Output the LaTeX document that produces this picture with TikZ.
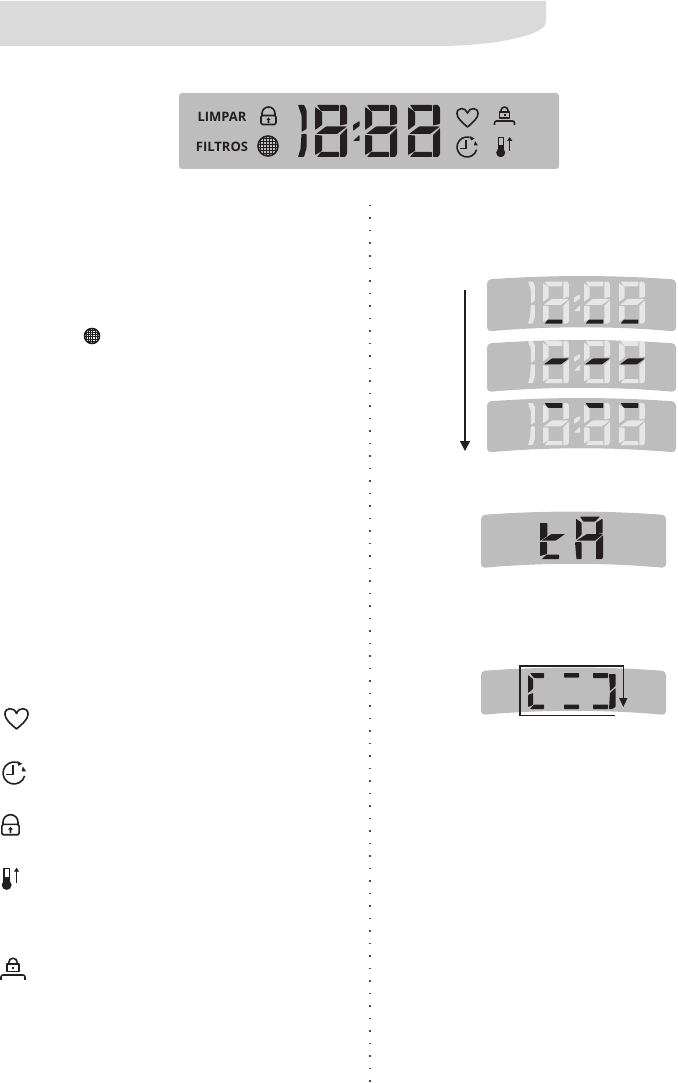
\documentclass[tikz,border=0pt]{standalone}
\usepackage{fontspec}
\setsansfont{Open Sans}
\usepackage{tikz}
\usetikzlibrary{arrows.meta,calc}
\definecolor{lcdgray}{HTML}{BDBDBD}
\definecolor{bannergray}{HTML}{DADADA}
\definecolor{segoff}{HTML}{E6E6E6}
\definecolor{segon}{HTML}{231F20}
\tikzset{
    lcdpanel/.style={fill=lcdgray, draw=none},
    seg/.style={fill=#1, draw=none, rounded corners=0.6pt},
    iconline/.style={draw=segon, line width=1.6pt, fill=none, line join=round},
    iconfill/.style={fill=segon, draw=none},
    panellabel/.style={font=\sffamily\bfseries\fontsize{13}{13}\selectfont, text=segon, inner sep=0pt},
    flowarrow/.style={-{Triangle[length=10pt,width=10pt]}, draw=segon, line width=1.2pt}
}
% curved display: x left, x right, y of top corner, y of bottom corner
\newcommand{\curvedpanel}[4]{
    \fill[lcdpanel, rounded corners=4pt] (#1,#3) .. controls ({#1+(#2-#1)*0.33},{#3-4.5}) and ({#1+(#2-#1)*0.67},{#3-4.5}) .. (#2,#3)
        -- (#2,#4) .. controls ({#1+(#2-#1)*0.67},{#4-5.5}) and ({#1+(#2-#1)*0.33},{#4-5.5}) .. (#1,#4) -- cycle;
}
% one digit: position, scale, then colours top, up-left, up-right, middle, low-left, low-right, bottom
\newcommand{\lcddigit}[9]{
    \begin{scope}[shift={(#1)}, scale=#2]
    \fill[seg=#3] (2,0) -- (24,0) -- (24,6) -- (6,6) -- cycle;
    \fill[seg=#4] (0,2) -- (7,7) -- (7,20) -- (0,25) -- cycle;
    \fill[seg=#5] (25,0) -- (30,0) -- (32,3) -- (32,19) -- (25,20.5) -- cycle;
    \fill[seg=#6] (1,29) -- (11,21.5) -- (32,21.5) -- (22,29) -- cycle;
    \fill[seg=#7] (0,30) -- (7,30.5) -- (7,46) -- (0,50) -- cycle;
    \fill[seg=#8] (32,23) -- (25,30) -- (25,52) -- (30,52) -- (32,49) -- cycle;
    \fill[seg=#9] (2,52) -- (6,47) -- (24,47) -- (24,52) -- cycle;
    \end{scope}
}
\newcommand{\lcdone}[4]{
    \begin{scope}[shift={(#1,#2)}, scale=#3]
    \fill[seg=#4] (0,0) -- (6,0) -- (8.5,5) -- (8.5,24) -- (3.5,27) -- (3.5,10) -- cycle;
    \fill[seg=#4] (3.5,29) -- (8.5,29) -- (8.5,43) -- (6,52) -- (0,52) -- (2.5,44) -- cycle;
    \end{scope}
}
\newcommand{\iconheart}[3]{
    \draw[iconline, shift={(#1,#2)}, scale=#3] (0,9) .. controls (-6,4) and (-10.5,0) .. (-10.5,-4.5) .. controls (-10.5,-11) and (-2,-11) .. (0,-5)
        .. controls (2,-11) and (10.5,-11) .. (10.5,-4.5) .. controls (10.5,0) and (6,4) .. (0,9) -- cycle;
}
\newcommand{\iconclock}[3]{
    \begin{scope}[shift={(#1,#2)}, scale=#3]
    \draw[iconline] (-75:10) arc (-75:-345:10);
    \draw[iconline] (-1,-7) -- (-1,1.5) -- (-7,1.5);
    \fill[iconfill] (2.5,-11) -- (7.5,-8.5) -- (4,-6.5) -- cycle;
    \fill[iconfill] (8,-6) -- (11,-1.5) -- (7,-1.5) -- cycle;
    \end{scope}
}
\newcommand{\iconlock}[3]{
    \begin{scope}[shift={(#1,#2)}, scale=#3]
    \draw[iconline] (-6.5,0) -- (-6.5,-2.5) arc (180:360:6.5) -- (6.5,0);
    \draw[iconline, rounded corners=1.5pt] (-7.5,-0.5) rectangle (7.5,8.5);
    \fill[iconfill] (0,1.5) -- (2.2,4) -- (0.8,4) -- (0.8,7) -- (-0.8,7) -- (-0.8,4) -- (-2.2,4) -- cycle;
    \end{scope}
}
\newcommand{\iconbench}[3]{
    \begin{scope}[shift={(#1,#2)}, scale=#3]
    \draw[iconline] (-3.5,-4) -- (-3.5,-5.5) arc (180:360:3.5) -- (3.5,-4);
    \draw[iconline] (-5,-4) rectangle (5,2);
    \fill[iconfill] (-1,-2) rectangle (1,0);
    \draw[iconline, rounded corners=2pt] (-10,9) -- (-10,5) -- (10,5) -- (10,9);
    \end{scope}
}
\newcommand{\iconthermo}[3]{
    \begin{scope}[shift={(#1,#2)}, scale=#3]
    \draw[iconline, line width=1.1pt] (-6.7,3) -- (-6.7,-9.5) -- (-1.9,-9.5) -- (-1.9,3);
    \fill[iconfill] (-4.3,5.7) circle (4.5);
    \fill[iconfill] (-6.7,-2) rectangle (-1.9,3);
    \draw[-{Triangle[length=4pt,width=5pt]}, draw=segon, line width=1.4pt] (4.7,3.7) -- (4.7,-10);
    \end{scope}
}
\newcommand{\icongrid}[3]{
    \begin{scope}[shift={(#1,#2)}, scale=#3]
    \draw[iconline] (0,0) circle (10);
    \clip (0,0) circle (10);
    \foreach \gridpos in {-8,-5,-2,1,4,7}{
        \draw[draw=segon, line width=0.8pt] (\gridpos,-10) -- (\gridpos,10);
        \draw[draw=segon, line width=0.8pt] (-10,\gridpos) -- (10,\gridpos);
    }
    \end{scope}
}
\begin{document}
\begin{tikzpicture}[x=1pt, y=-1pt]
\useasboundingbox (0,0) rectangle (677,1083);

% Banner
\fill[bannergray] (0,1) -- (546,1) -- (546,22) .. controls (546,36) and (490,46) .. (440,46) -- (0,46) -- cycle;

% Main display
\fill[lcdpanel, rounded corners=3pt] (179,93) rectangle (559,169);
\node[panellabel] (limpar) at (222,116.4) {LIMPAR};
\node[panellabel] (filtros) at (222,146.7) {FILTROS};
\iconlock{268.5}{116}{1}
\icongrid{268}{146}{1}
\lcdone{298}{105}{1}{segon}
\foreach \digitx in {315,365,408}{
    \lcddigit{\digitx,105}{1}{segon}{segon}{segon}{segon}{segon}{segon}{segon}
}
\begin{scope}[shift={(353,105)}]
    \fill[seg=segon] (0,20) -- (6.5,16) -- (6.5,21) -- (0,26) -- cycle;
    \fill[seg=segon] (0,36) -- (6.5,30) -- (6.5,36) -- cycle;
\end{scope}
\iconheart{467.5}{118}{1}
\iconbench{504.5}{116}{1}
\iconclock{467}{147}{1}
\iconthermo{505}{147}{1}

% Small filter mark in the left column
\icongrid{92}{336}{0.75}

% Three displays with the moving bar
\curvedpanel{487}{676}{279.5}{331.5}
\curvedpanel{487}{676}{343.5}{392}
\curvedpanel{487}{676}{401.5}{452.5}
\foreach \panely/\topc/\midc/\botc in {281.5/segoff/segoff/segon, 341/segoff/segon/segoff, 403/segon/segoff/segoff}{
    \lcdone{528}{\panely}{0.81}{segoff}
    \fill[seg=segoff] (574,\panely+16) -- (580,\panely+13) -- (580,\panely+17) -- (574,\panely+21) -- cycle;
    \fill[seg=segoff] (574,\panely+29.5) -- (580,\panely+23.5) -- (580,\panely+29.5) -- cycle;
    \foreach \digitx in {543,584,619}{
        \lcddigit{\digitx,\panely}{0.81}{\topc}{segoff}{segoff}{\midc}{segoff}{segoff}{\botc}
    }
}
\coordinate (flowtop) at (465,290);
\coordinate (flowend) at (465,451);
\draw[flowarrow] (flowtop) -- (flowend);

% tA display
\curvedpanel{481}{666}{515}{568}
\begin{scope}[shift={(540,523)}]
    \fill[seg=segon] (0,0) -- (7.3,0) -- (7.3,13) -- (0,18) -- cycle;
    \fill[seg=segon] (1.7,17.5) -- (11.5,11) -- (25,11) -- (16,17.5) -- cycle;
    \fill[seg=segon] (0,19) -- (7,19) -- (7,31) -- (0,33) -- cycle;
    \fill[seg=segon] (1.7,36) -- (7,31.5) -- (19,31.5) -- (19,36) -- cycle;
\end{scope}
\begin{scope}[shift={(575,516.7)}]
    \fill[seg=segon] (5,0) -- (25,0) -- (20,5) -- (8.5,5) -- cycle;
    \fill[seg=segon] (1,2) -- (6.5,6) -- (6.5,18) -- (1,23) -- cycle;
    \fill[seg=segon] (27.5,2) -- (21,6) -- (21,17.5) -- (27.5,16.5) -- cycle;
    \fill[seg=segon] (1.5,24) -- (11.5,17.5) -- (28,17.5) -- (20,24) -- cycle;
    \fill[seg=segon] (0,25.5) -- (6.5,25.5) -- (6.5,42.5) -- (1.5,42.5) -- cycle;
    \fill[seg=segon] (28,18.5) -- (21,25) -- (21,42.5) -- (27,42.5) -- (28,40) -- cycle;
\end{scope}

% Segment chase display
\curvedpanel{481}{666}{671}{715}
\begin{scope}[shift={(528,673)}]
    \fill[seg=segon] (2,0) -- (16,0) -- (16,5) -- (6,5) -- cycle;
    \fill[seg=segon] (0,2) -- (5,6) -- (5,16) -- (0,20) -- cycle;
    \fill[seg=segon] (0,22) -- (5,20) -- (5,32) -- (0,34) -- cycle;
    \fill[seg=segon] (2,36) -- (6,31.5) -- (16,31.5) -- (16,36) -- cycle;
    \fill[seg=segon] (36,0) -- (51,0) -- (51,4.5) -- (36,4.5) -- cycle;
    \fill[seg=segon] (36,31.5) -- (51,31.5) -- (51,36) -- (36,36) -- cycle;
    \fill[seg=segon] (65,0) -- (80,0) -- (80,5) -- (65,5) -- cycle;
    \fill[seg=segon] (65,31.5) -- (80,31.5) -- (80,36) -- (65,36) -- cycle;
    \fill[seg=segon] (81,1) -- (87.5,1) -- (87.5,13) -- (82,18) -- cycle;
    \fill[seg=segon] (82,20) -- (87.5,15) -- (87.5,34) -- (84,36) -- (81,36) -- cycle;
\end{scope}
\coordinate (chasestart) at (615,715.5);
\coordinate (chaseleft) at (520,715.5);
\coordinate (chasetop) at (520,666);
\coordinate (chaseright) at (623.3,666);
\coordinate (chaseend) at (623.3,707);
\draw[flowarrow, -{Triangle[length=9pt,width=8pt]}] (chasestart) -- (chaseleft) -- (chasetop) -- (chaseright) -- (chaseend);

% Legend marks
\iconheart{16.5}{719}{1.1}
\iconclock{14}{773}{1.1}
\iconlock{10.5}{825}{1.15}
\iconthermo{11.4}{878.7}{1.1}
\iconbench{13}{969}{1.2}

% Column separator
\foreach \doty in {0,...,70}{
    \fill[black!70] (369,{205+\doty*12.5}) rectangle (370.5,{206.5+\doty*12.5});
}
\end{tikzpicture}
\end{document}
